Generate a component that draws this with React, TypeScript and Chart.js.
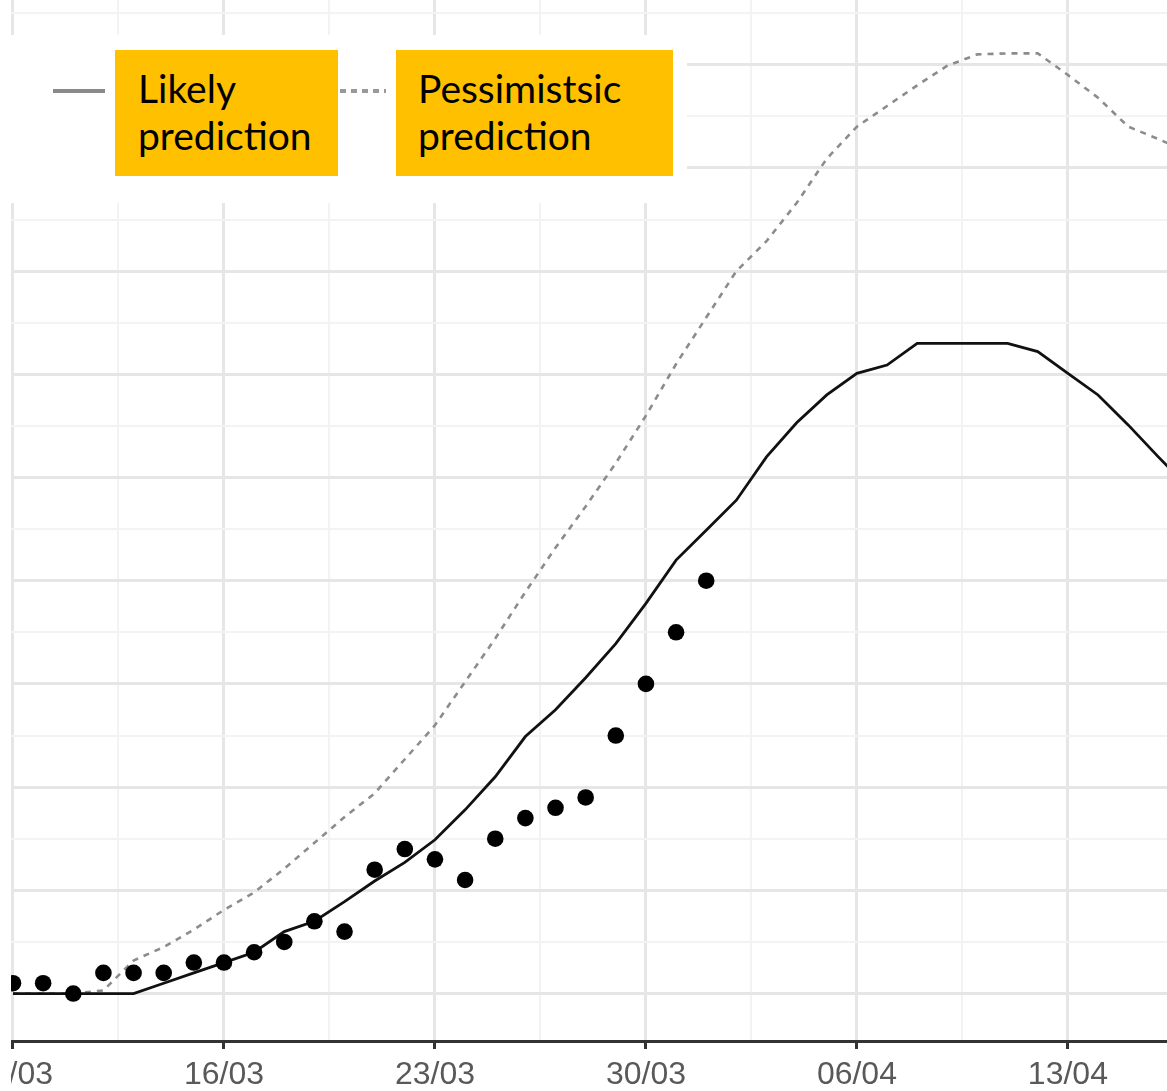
import React, { useEffect, useRef } from "react";
import { Chart, registerables } from "chart.js";

Chart.register(...registerables);

// Dates (daily), from 09/03 to 17/04
const dates = [
  "09/03", "10/03", "11/03", "12/03", "13/03", "14/03", "15/03", "16/03", "17/03", "18/03",
  "19/03", "20/03", "21/03", "22/03", "23/03", "24/03", "25/03", "26/03", "27/03", "28/03",
  "29/03", "30/03", "31/03", "01/04", "02/04", "03/04", "04/04", "05/04", "06/04", "07/04",
  "08/04", "09/04", "10/04", "11/04", "12/04", "13/04", "14/04", "15/04", "16/04", "17/04",
];

// Likely prediction (solid line)
const likelyPrediction = [
  0, 0, 0, 0, 0, 1, 2, 3, 4, 6,
  7, 8.9, 10.9, 12.7, 14.9, 17.8, 21, 24.9, 27.5, 30.6,
  33.9, 37.8, 42, 44.9, 47.8, 52, 55.3, 58, 60.1, 60.9,
  63, 63, 63, 63, 62.2, 60.1, 58, 55.1, 52, 49,
];

// Pessimistic prediction (dotted line)
const pessimisticPrediction = [
  0, 0, 0, 0.3, 3.2, 4.5, 6.2, 8.1, 9.8, 12.1,
  14.6, 17.1, 19.4, 22.7, 26, 30.2, 34.4, 38.9, 43.2, 47.2,
  51.4, 56, 61, 65.5, 70, 72.9, 76.6, 80.9, 84, 86,
  88, 89.9, 91, 91.1, 91.1, 89, 86.8, 84, 82.8, 81.5,
];

// Observed values (dots), starting 09/03
const observed = [
  1, 1, 0, 2, 2, 2, 3, 3, 4, 5,
  7, 6, 12, 14, 13, 11, 15, 17, 18, 19,
  25, 30, 35, 40,
];

// Axis tick labels (weekly)
const tickLabels = ["09/03", "16/03", "23/03", "30/03", "06/04", "13/04"];

function dayNum(s: string): number {
  const [d, m] = s.split("/").map(Number);
  return d + (m === 4 ? 31 : 0);
}

const X_MIN = 9 - 2 / 30.14;
const X_MAX = 47.288;
const Y_MIN = -4.6;
const Y_MAX = 96.27;

export default function App() {
  const canvasRef = useRef<HTMLCanvasElement | null>(null);

  useEffect(() => {
    const canvas = canvasRef.current;
    if (!canvas) return;

    const majorDays = tickLabels.map(dayNum);
    const gridDays: number[] = [];
    majorDays.forEach((d) => {
      gridDays.push(d);
      if (d + 3.5 <= X_MAX) gridDays.push(d + 3.5);
    });
    const isMajorX = (v: number) => majorDays.some((d) => Math.abs(d - v) < 1e-6);

    const yGrid: number[] = [];
    for (let v = 0; v <= 95; v += 5) yGrid.push(v);
    const isMajorY = (v: number) => Math.abs(v % 10) < 1e-6;

    const toXY = (vals: number[]) => vals.map((v, i) => ({ x: dayNum(dates[i]), y: v }));

    const chart = new Chart(canvas, {
      type: "line",
      data: {
        datasets: [
          {
            label: "Observed",
            data: toXY(observed),
            showLine: false,
            pointRadius: 8.3,
            pointBackgroundColor: "#000",
            pointBorderWidth: 0,
            borderColor: "#000",
            clip: 0,
            order: 0,
          },
          {
            label: "Likely prediction",
            data: toXY(likelyPrediction),
            borderColor: "#111",
            borderWidth: 2.8,
            pointRadius: 0,
            tension: 0,
            fill: false,
            order: 1,
          },
          {
            label: "Pessimistic prediction",
            data: toXY(pessimisticPrediction),
            borderColor: "#8c8c8c",
            borderWidth: 2.6,
            borderDash: [6, 6],
            pointRadius: 0,
            tension: 0,
            fill: false,
            order: 2,
          },
        ],
      },
      options: {
        animation: false,
        responsive: false,
        devicePixelRatio: 1,
        layout: { autoPadding: false, padding: { left: 11, right: 0, top: 0, bottom: 0 } },
        plugins: { legend: { display: false }, tooltip: { enabled: false } },
        scales: {
          x: {
            type: "linear",
            min: X_MIN,
            max: X_MAX,
            afterBuildTicks: (s: any) => {
              s.ticks = gridDays.map((v) => ({ value: v }));
            },
            afterFit: (s: any) => {
              s.height = 50;
              s.paddingLeft = 0;
              s.paddingRight = 0;
              s.paddingTop = 0;
              s.paddingBottom = 0;
            },
            ticks: {
              autoSkip: false,
              maxRotation: 0,
              padding: 7,
              color: "#595959",
              font: { family: '"Liberation Sans", Arial, sans-serif', size: 32 },
              callback: (v: any) => {
                const i = majorDays.findIndex((d) => Math.abs(d - Number(v)) < 1e-6);
                return i >= 0 ? tickLabels[i] : "";
              },
            },
            grid: {
              color: (ctx: any) => (ctx.tick && isMajorX(ctx.tick.value) ? "#e6e6e6" : "#f3f3f3"),
              lineWidth: (ctx: any) => (ctx.tick && isMajorX(ctx.tick.value) ? 3 : 2),
              tickLength: 8,
              tickWidth: 3,
              tickColor: (ctx: any) => (ctx.tick && isMajorX(ctx.tick.value) ? "#333" : "rgba(0,0,0,0)"),
            },
            border: { display: true, color: "#333", width: 3 },
          },
          y: {
            type: "linear",
            min: Y_MIN,
            max: Y_MAX,
            afterBuildTicks: (s: any) => {
              s.ticks = yGrid.map((v) => ({ value: v }));
            },
            afterFit: (s: any) => {
              s.width = 0;
              s.paddingLeft = 0;
              s.paddingRight = 0;
              s.paddingTop = 0;
              s.paddingBottom = 0;
            },
            ticks: { display: false },
            grid: {
              drawTicks: false,
              color: (ctx: any) => (ctx.tick && isMajorY(ctx.tick.value) ? "#e6e6e6" : "#f3f3f3"),
              lineWidth: (ctx: any) => (ctx.tick && isMajorY(ctx.tick.value) ? 3 : 2),
            },
            border: { display: false },
          },
        },
      },
    } as any);

    return () => chart.destroy();
  }, []);

  const boxText: React.CSSProperties = {
    position: "absolute",
    top: 50,
    height: 126,
    background: "#FFC000",
    color: "#000",
    fontFamily: "Lato, 'Open Sans', sans-serif",
    fontSize: 39,
    lineHeight: "47px",
    paddingTop: 15,
    boxSizing: "border-box",
    whiteSpace: "nowrap",
  };

  return (
    <div
      style={{
        position: "absolute",
        left: 0,
        top: 0,
        width: 1167,
        height: 1091,
        overflow: "hidden",
        background: "#fff",
      }}
    >
      <canvas ref={canvasRef} width={1167} height={1091} style={{ display: "block" }} />
      <div style={{ position: "absolute", left: 0, top: 0, width: 11, height: 1091, background: "#fff" }} />
      <div style={{ position: "absolute", left: 0, top: 35, width: 687, height: 168, background: "#fff" }} />
      <div style={{ position: "absolute", left: 53, top: 89, width: 52, height: 4, background: "#8a8a8a" }} />
      <div style={{ ...boxText, left: 115, width: 223, paddingLeft: 23 }}>
        Likely
        <br />
        prediction
      </div>
      <div
        style={{
          position: "absolute",
          left: 340,
          top: 89,
          width: 46,
          height: 4,
          background: "repeating-linear-gradient(90deg, #999 0px, #999 6px, transparent 6px, transparent 11px)",
        }}
      />
      <div style={{ ...boxText, left: 396, width: 277, paddingLeft: 22 }}>
        Pessimistsic
        <br />
        prediction
      </div>
    </div>
  );
}
